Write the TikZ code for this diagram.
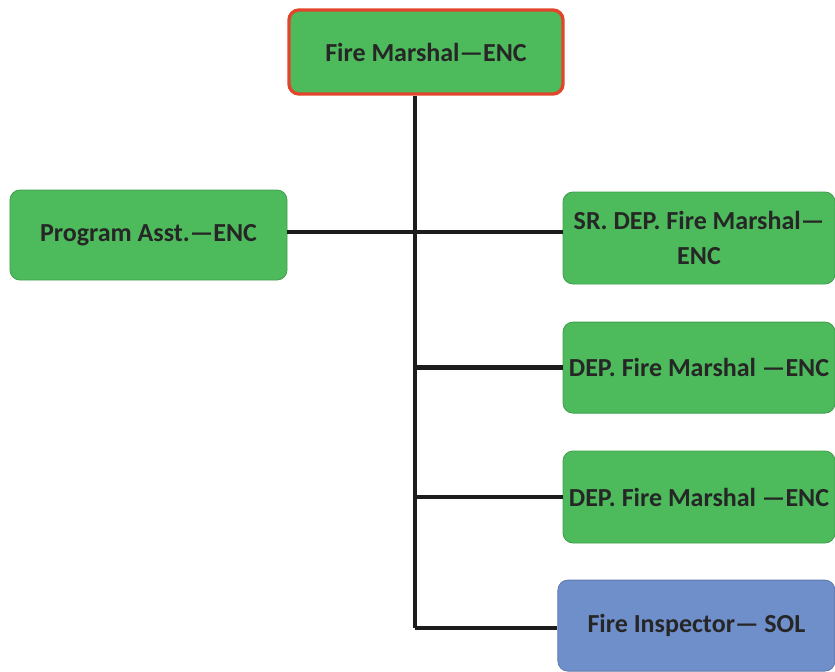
\documentclass[tikz,border=0pt]{standalone}
\usepackage{fontspec}
\setmainfont{Carlito}
\usepackage{xcolor}
\usepackage{tikz}
\usetikzlibrary{positioning, calc}
\definecolor{mygreen}{HTML}{4DBA5B}
\definecolor{myblue}{HTML}{6F8FCB}
\definecolor{myred}{HTML}{E2452C}
\definecolor{myline}{HTML}{1C1C1C}
\tikzset{
officebox/.style={
draw=mygreen!85!black,
fill=mygreen,
rounded corners=0.25cm,
line width=0.6pt,
minimum height=2.25cm,
minimum width=6.85cm,
font=\fontsize{18.5}{25}\selectfont\bfseries,
text=black!85,
align=center,
inner sep=1pt
},
headbox/.style={
officebox,
draw=myred,
line width=2.4pt
},
fieldbox/.style={
officebox,
draw=myblue!85!black,
fill=myblue
},
link/.style={
line width=3pt,
draw=myline
}
}

\begin{document}
\begin{tikzpicture}

\useasboundingbox (0,0) rectangle (20.875,-16.775);

\node[headbox, minimum height=2.1cm] (marshal) at (10.65,-1.3) {Fire Marshal---ENC};
\node[officebox, minimum width=6.925cm] (asst) at (3.7125,-5.875) {Program Asst.---ENC};
\node[officebox, minimum width=6.8cm, minimum height=2.3cm] (srdep) at (17.475,-5.95) {SR. DEP. Fire Marshal---\\ENC};
\node[officebox, minimum width=6.8cm, minimum height=2.275cm] (depa) at (17.475,-9.19) {DEP. Fire Marshal ---ENC};
\node[officebox, minimum width=6.8cm, minimum height=2.3cm] (depb) at (17.475,-12.425) {DEP. Fire Marshal ---ENC};
\node[fieldbox, minimum width=6.925cm, minimum height=2.275cm] (inspector) at (17.41,-15.64) {Fire Inspector--- SOL};

% trunk line
\coordinate (trunktop) at (10.375,-2.4);
\coordinate (trunkend) at (10.375,-15.7);

\draw[link] (trunktop) -- (trunkend);
\draw[link] (asst.east |- 0,-5.8) -- (srdep.west |- 0,-5.8);
\draw[link] (trunktop |- depa.west) -- (depa.west);
\draw[link] (trunktop |- depb.west) -- (depb.west);
\draw[link] (trunkend) -- (inspector.west |- trunkend);

\end{tikzpicture}
\end{document}
